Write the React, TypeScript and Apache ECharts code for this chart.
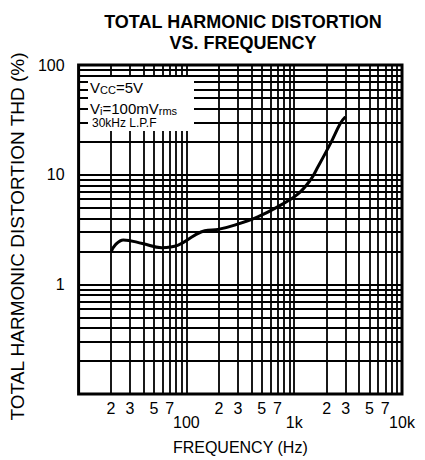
import React, { useEffect, useRef } from 'react';
import * as echarts from 'echarts';

// THD curve (frequency in Hz, THD in %)
const frequencyHz = [20, 22, 26, 39, 59, 84, 120, 148, 197, 280, 459, 702, 1072, 1422, 1638, 2173, 2685, 2990];
const thdPercent = [1.97, 2.3, 2.54, 2.36, 2.16, 2.28, 2.81, 3.08, 3.17, 3.47, 4.13, 5.09, 6.6, 9.0, 11.5, 19.3, 29.4, 33.7];

// Axis ranges and labels
const xRange = [10, 10000];
const yRange = [0.1, 100];
const xDecadeLabels = [100, 1000, 10000];
const xDecadeTexts = ['100', '1k', '10k'];
const xMinorLabels = [20, 30, 50, 70, 200, 300, 500, 700, 2000, 3000, 5000, 7000];
const yDecadeLabels = [1, 10, 100];
const yDecadeTexts = ['1', '10', '100'];
const gridMultipliers = [1, 2, 3, 4, 5, 6, 7, 8, 9];

const titleText = 'TOTAL HARMONIC DISTORTION\nVS. FREQUENCY';
const xName = 'FREQUENCY (Hz)';
const yName = 'TOTAL HARMONIC DISTORTION THD (%)';

const FONT = '"Liberation Sans", Arial, Helvetica, sans-serif';
const lg = (v: number) => Math.log10(v);

function decadeGrid(lo: number, hi: number): number[] {
  const out: number[] = [];
  for (let d = lo; d < hi; d *= 10) {
    for (const m of gridMultipliers) out.push(lg(d * m));
  }
  out.push(lg(hi));
  return out;
}

const near = (a: number, b: number) => Math.abs(a - b) < 1e-6;

export default function App() {
  const ref = useRef<HTMLDivElement>(null);
  useEffect(() => {
    if (!ref.current) return;
    const chart = echarts.init(ref.current, null, { renderer: 'svg' });
    const data = frequencyHz.map((f, i) => [lg(f), lg(thdPercent[i])]);
    // decade labels first so that first/last label pairs never collide
    const xLabelVals = [...xDecadeLabels, ...xMinorLabels].map(lg);

    chart.setOption({
      animation: false,
      backgroundColor: '#fff',
      title: {
        text: titleText,
        left: 238,
        top: 6,
        textAlign: 'center',
        textStyle: {
          fontFamily: FONT,
          fontWeight: 'bold',
          fontSize: 18,
          lineHeight: 21,
          color: '#000',
        },
      },
      grid: {
        left: 76,
        right: 23,
        top: 65,
        bottom: 66,
        show: true,
        borderColor: '#000',
        borderWidth: 3,
        backgroundColor: '#fff',
      },
      xAxis: {
        type: 'value',
        min: lg(xRange[0]),
        max: lg(xRange[1]),
        axisLine: { show: false },
        axisTick: { show: false, customValues: decadeGrid(xRange[0], xRange[1]) },
        splitLine: { show: true, lineStyle: { color: '#000', width: 1.8 } },
        axisLabel: {
          customValues: xLabelVals,
          hideOverlap: false,
          showMinLabel: true,
          showMaxLabel: true,
          margin: 6,
          color: '#000',
          fontFamily: FONT,
          fontSize: 16,
          formatter: (v: number) => {
            const di = xDecadeLabels.findIndex((d) => near(lg(d), v));
            if (di >= 0) return '{d|' + xDecadeTexts[di] + '}';
            const m = Math.round(Math.pow(10, v - Math.floor(v + 1e-9)));
            return '{m|' + m + '}';
          },
          rich: {
            m: { fontSize: 16, fontFamily: FONT, color: '#000' },
            d: { fontSize: 16, fontFamily: FONT, color: '#000', padding: [14, 0, 0, 0] },
          },
        },
        name: xName,
        nameLocation: 'middle',
        nameGap: 45,
        nameTextStyle: { fontFamily: FONT, fontSize: 16, color: '#000' },
      },
      yAxis: {
        type: 'value',
        min: lg(yRange[0]),
        max: lg(yRange[1]),
        axisLine: { show: false },
        axisTick: { show: false, customValues: decadeGrid(yRange[0], yRange[1]) },
        splitLine: { show: true, lineStyle: { color: '#000', width: 1.8 } },
        axisLabel: {
          customValues: yDecadeLabels.map(lg),
          margin: 14,
          color: '#000',
          fontFamily: FONT,
          fontSize: 16,
          formatter: (v: number) => {
            const i = yDecadeLabels.findIndex((d) => near(lg(d), v));
            return i >= 0 ? yDecadeTexts[i] : '';
          },
        },
        name: yName,
        nameLocation: 'middle',
        nameGap: 48,
        nameTextStyle: { fontFamily: FONT, fontSize: 19, color: '#000', padding: [0, 14, 0, 0] },
      },
      graphic: [
        {
          type: 'rect',
          z: 100,
          shape: { x: 88, y: 77, width: 106, height: 54 },
          style: { fill: '#fff' },
        },
        {
          type: 'text',
          z: 101,
          x: 90,
          y: 87,
          style: {
            text: '{b|V}{s|CC}{b|=5V}',
            fill: '#000',
            verticalAlign: 'middle',
            rich: {
              b: { fontSize: 15, fontFamily: FONT, fill: '#000', verticalAlign: 'bottom', lineHeight: 16 },
              s: { fontSize: 11, fontFamily: FONT, fill: '#000', verticalAlign: 'bottom', lineHeight: 12 },
            },
          },
        },
        {
          type: 'text',
          z: 101,
          x: 90,
          y: 108,
          style: {
            text: '{b|V}{s|i}{b|=100mV}{s|rms}',
            fill: '#000',
            verticalAlign: 'middle',
            rich: {
              b: { fontSize: 15, fontFamily: FONT, fill: '#000', verticalAlign: 'bottom', lineHeight: 16 },
              s: { fontSize: 11, fontFamily: FONT, fill: '#000', verticalAlign: 'bottom', lineHeight: 11 },
            },
          },
        },
        {
          type: 'text',
          z: 101,
          x: 92,
          y: 123,
          style: {
            text: '30kHz L.P.F',
            fontFamily: FONT,
            fontSize: 12,
            fill: '#000',
            verticalAlign: 'middle',
          },
        },
      ],
      series: [
        {
          type: 'line',
          data,
          smooth: 0.4,
          symbol: 'none',
          lineStyle: { color: '#000', width: 3 },
          z: 10,
        },
      ],
    });
    return () => chart.dispose();
  }, []);

  return (
    <div
      ref={ref}
      style={{ position: 'fixed', left: 0, top: 0, width: 425, height: 460, background: '#fff' }}
    />
  );
}
